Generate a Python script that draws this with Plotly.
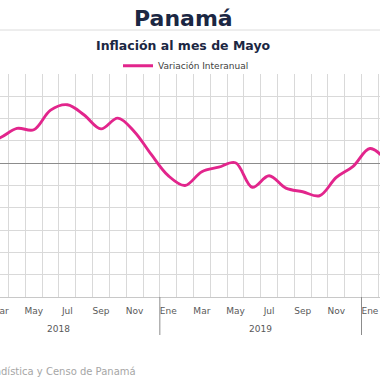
import plotly.graph_objects as go

# ---- data ----
months = ["Ene", "Feb", "Mar", "Abr", "May", "Jun", "Jul", "Ago", "Sep", "Oct", "Nov", "Dic"]
years = ["2018", "2019", "2020"]
period_year = ["2018"] * 12 + ["2019"] * 12 + ["2020"] * 2
period_month = months + months + months[:2]
variacion = [0.35, 0.45, 0.57, 0.78, 0.75, 1.19, 1.31, 1.08, 0.77, 1.01, 0.70, 0.19,
             -0.28, -0.50, -0.19, -0.09, 0.01, -0.54, -0.28, -0.56, -0.64, -0.73, -0.32, -0.07,
             0.33, 0.05]
series_name = "Variación Interanual"
title_text = "Panamá"
subtitle_text = "Inflación al mes de Mayo"
source_text = "Fuente: Instituto Nacional de Estadística y Censo de Panamá"

x_idx = list(range(len(variacion)))

FONT = "DejaVu Sans"
W, H = 380, 380
MT, MB = 74, 83
PH = H - MT - MB


def py(ypx):
    """pixel (from top) -> paper y"""
    return (H - MB - ypx) / PH


fig = go.Figure()
fig.add_trace(go.Scatter(
    x=x_idx, y=variacion, mode="lines", name=series_name,
    line=dict(color="#E2258C", width=2.9, shape="spline", smoothing=1.0),
    hoverinfo="skip",
))

# tick labels: every other month
tickvals = [i for i in x_idx if i % 2 == 0]
ticktext = [period_month[i] for i in tickvals]

fig.update_xaxes(
    range=[1.99, 24.6], automargin=False,
    tickmode="array", tickvals=tickvals, ticktext=ticktext,
    showgrid=False, zeroline=False, ticklabeloverflow="allow",
    showline=True, linecolor="#c8c8c8", linewidth=1,
    ticks="", ticklabelstandoff=5,
    tickfont=dict(family=FONT, size=9, color="#595959"),
    minor=dict(tickmode="linear", tick0=-0.5, dtick=1, showgrid=True,
               gridcolor="#d9d9d9", gridwidth=1, ticks=""),
)
fig.update_yaxes(
    range=[-3, 2], tickmode="linear", tick0=-3, dtick=0.5, automargin=False,
    showgrid=True, gridcolor="#d9d9d9", gridwidth=1,
    zeroline=True, zerolinecolor="#8c8c8c", zerolinewidth=1,
    showticklabels=False, ticks="",
)

# year group labels and dividers
shapes = []
annotations = []
for yr in years:
    idxs = [i for i, y in enumerate(period_year) if y == yr]
    if len(idxs) == 12:
        center = sum(idxs) / len(idxs)
        annotations.append(dict(x=center, xref="x", y=py(329), yref="paper",
                                text=yr, showarrow=False, yanchor="middle",
                                font=dict(family=FONT, size=9, color="#595959")))
    for b in (idxs[0] - 0.5,):
        shapes.append(dict(type="line", xref="x", yref="paper", x0=b, x1=b,
                           y0=0, y1=py(335), line=dict(color="#8c8c8c", width=1)))

# separator line under main title
shapes.append(dict(type="line", xref="paper", yref="paper", x0=0, x1=1,
                   y0=py(30), y1=py(30), line=dict(color="#dcdcdc", width=1)))

annotations += [
    dict(x=183 / W, xref="paper", y=py(19), yref="paper", text="<b>" + title_text + "</b>",
         showarrow=False, yanchor="middle", xanchor="center",
         font=dict(family=FONT, size=22, color="#1B2743")),
    dict(x=183 / W, xref="paper", y=py(45), yref="paper", text="<b>" + subtitle_text + "</b>",
         showarrow=False, yanchor="middle", xanchor="center",
         font=dict(family=FONT, size=12.5, color="#1B2743")),
    dict(x=138 / W, xref="paper", y=py(371.5), yref="paper", text=source_text,
         showarrow=False, yanchor="middle", xanchor="right",
         font=dict(family=FONT, size=10, color="#a6a6a6")),
]

fig.update_layout(
    width=W, height=H,
    margin=dict(l=0, r=0, t=MT, b=MB, pad=0, autoexpand=False),
    paper_bgcolor="white", plot_bgcolor="white",
    showlegend=True,
    legend=dict(orientation="h", x=118 / W, xanchor="left", y=py(65.7), yanchor="middle",
                font=dict(family=FONT, size=9, color="#404040"),
                bgcolor="rgba(0,0,0,0)", borderwidth=0, itemwidth=30),
    shapes=shapes, annotations=annotations,
)

fig.write_html("out.html", config={"displayModeBar": False},
               post_script="document.body.style.margin='0';document.body.style.overflow='hidden';")
